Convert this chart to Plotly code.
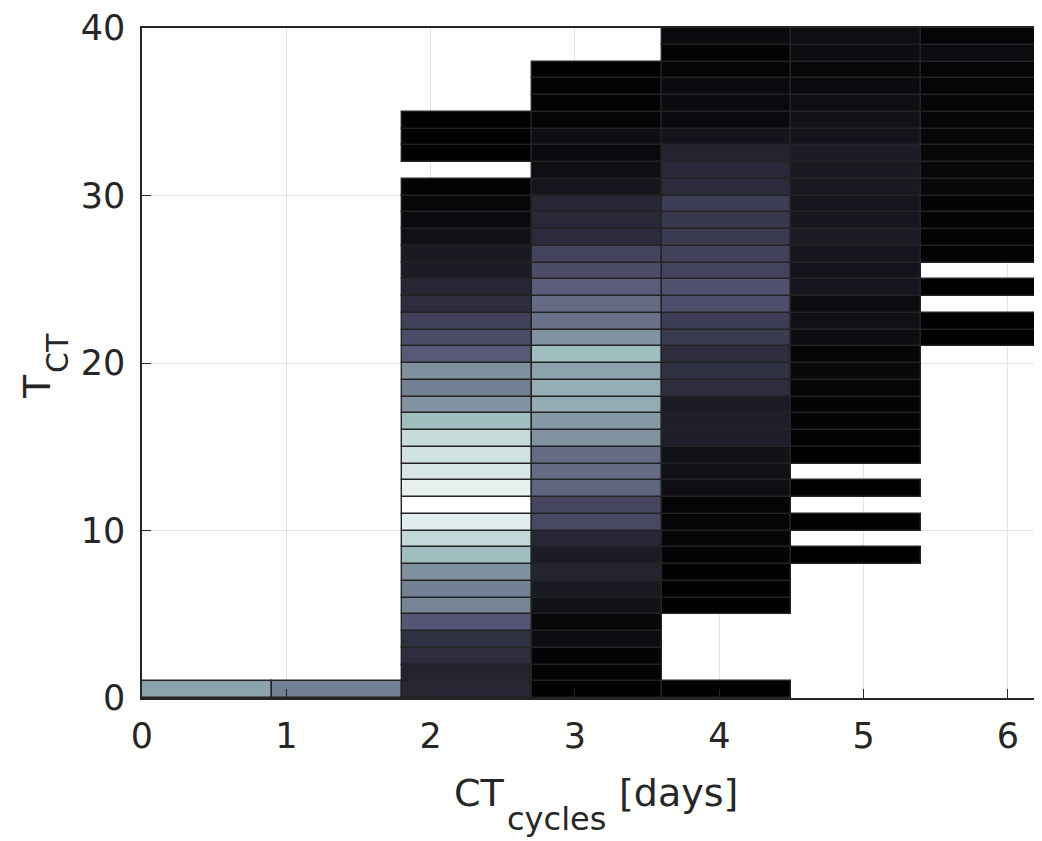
import plotly.graph_objects as go

# Column left edges (days) and bar width
col_left = [0.0, 0.9, 1.8, 2.7, 3.6, 4.5, 5.4]
bar_width = 0.9
N = None

# Normalised bar heights per column, rows 0..39 (None = no bar)
col0 = [0.63] + [N] * 39
col1 = [0.515] + [N] * 39
col2 = [0.17, 0.16, 0.20, 0.215, 0.38, 0.53, 0.515, 0.57, 0.72, 0.83,
        0.915, 1.0, 0.934, 0.886, 0.87, 0.84, 0.72, 0.58, 0.515, 0.57,
        0.39, 0.34, 0.29, 0.20, 0.17, 0.125, 0.11, 0.07, 0.045, 0.03,
        0.015, N, 0.005, 0.005, 0.005, N, N, N, N, N]
col3 = [0.005, 0.012, 0.018, 0.054, 0.035, 0.08, 0.11, 0.16, 0.125, 0.17,
        0.32, 0.31, 0.43, 0.45, 0.45, 0.58, 0.60, 0.66, 0.67, 0.63,
        0.72, 0.58, 0.47, 0.45, 0.40, 0.34, 0.30, 0.19, 0.18, 0.17,
        0.10, 0.063, 0.045, 0.063, 0.022, 0.013, 0.009, 0.003, N, N]
col4 = [0.003, N, N, N, N, 0.003, 0.005, 0.005, 0.018, 0.027,
        0.027, 0.022, 0.063, 0.072, 0.08, 0.135, 0.135, 0.125, 0.20, 0.215,
        0.20, 0.26, 0.27, 0.35, 0.36, 0.30, 0.29, 0.26, 0.25, 0.27,
        0.19, 0.18, 0.16, 0.09, 0.045, 0.045, 0.045, 0.022, 0.01, 0.045]
col5 = [N, N, N, N, N, N, N, N, 0.002, N,
        0.002, N, 0.002, N, 0.005, 0.013, 0.018, 0.018, 0.022, 0.036,
        0.027, 0.054, 0.072, 0.054, 0.10, 0.09, 0.10, 0.125, 0.10, 0.10,
        0.11, 0.11, 0.125, 0.09, 0.08, 0.063, 0.045, 0.036, 0.054, 0.063]
col6 = [N] * 21 + [0.001, 0.001, N, 0.004, N, 0.009, 0.013, 0.013, 0.018,
                   0.036, 0.036, 0.036, 0.027, 0.027, 0.027, 0.022, 0.022, 0.054, 0.022]

columns = [col0, col1, col2, col3, col4, col5, col6]

x_ticks = [0, 1, 2, 3, 4, 5, 6]
y_ticks = [0, 10, 20, 30, 40]

# MATLAB "bone" colormap
bone = [[0.0, "rgb(0,0,0)"], [0.375, "rgb(84,84,116)"],
        [0.75, "rgb(167,199,199)"], [1.0, "rgb(255,255,255)"]]

xs, bases, hs, cs = [], [], [], []
for left, vals in zip(col_left, columns):
    for r, v in enumerate(vals):
        if v is None:
            continue
        xs.append(left + bar_width / 2)
        bases.append(r)
        hs.append(1)
        cs.append(v)

fig = go.Figure(go.Bar(
    x=xs, y=hs, base=bases, width=bar_width,
    marker=dict(color=cs, colorscale=bone, cmin=0, cmax=1,
                line=dict(color="rgb(35,35,35)", width=1.4)),
    hoverinfo="skip", showlegend=False,
))

axis_col = "#262626"
font_family = "DejaVu Sans, Liberation Sans, Arial, sans-serif"

# axis titles as text pieces (main text + lowered subscript)
title_parts = [
    # text, size, xshift, yshift, angle
    ("CT", 38, 310, -95, 0),
    ("cycles", 32, 363, -121, 0),
    ("[days]", 38, 475, -95, 0),
]
for text, size, xs_, ys_, ang in title_parts:
    fig.add_annotation(text=text, xref="paper", yref="paper", x=0, y=0,
                       xanchor="left", yanchor="middle", xshift=xs_, yshift=ys_,
                       showarrow=False, font=dict(size=size, color=axis_col))

ytitle_parts = [
    ("T", 38, -105, 311),
    ("CT", 30, -85, 345),
]
for text, size, xs_, ys_ in ytitle_parts:
    fig.add_annotation(text=text, xref="paper", yref="paper", x=0, y=0,
                       xanchor="center", yanchor="middle", xshift=xs_, yshift=ys_,
                       textangle=-90, showarrow=False,
                       font=dict(size=size, color=axis_col))

fig.update_layout(
    width=1034, height=833,
    margin=dict(l=134, r=0, t=16, b=143),
    paper_bgcolor="white", plot_bgcolor="white",
    barmode="overlay", bargap=0,
    font=dict(family=font_family, color=axis_col, size=36),
    xaxis=dict(range=[0, 6.236], tickvals=x_ticks, ticks="inside", ticklen=9,
               tickcolor=axis_col, showline=True, linecolor=axis_col, linewidth=1.5,
               mirror=True, showgrid=True, gridcolor="#e3e3e3", gridwidth=1,
               zeroline=False, tickfont=dict(size=35), ticklabelstandoff=6,
               ticklabeloverflow="allow"),
    yaxis=dict(range=[0, 40], tickvals=y_ticks, ticks="inside", ticklen=9,
               tickcolor=axis_col, showline=True, linecolor=axis_col, linewidth=1.5,
               mirror=False, showgrid=True, gridcolor="#e3e3e3", gridwidth=1,
               zeroline=False, tickfont=dict(size=35), ticklabelstandoff=8,
               ticklabeloverflow="allow"),
)

fig.write_html("out.html")
